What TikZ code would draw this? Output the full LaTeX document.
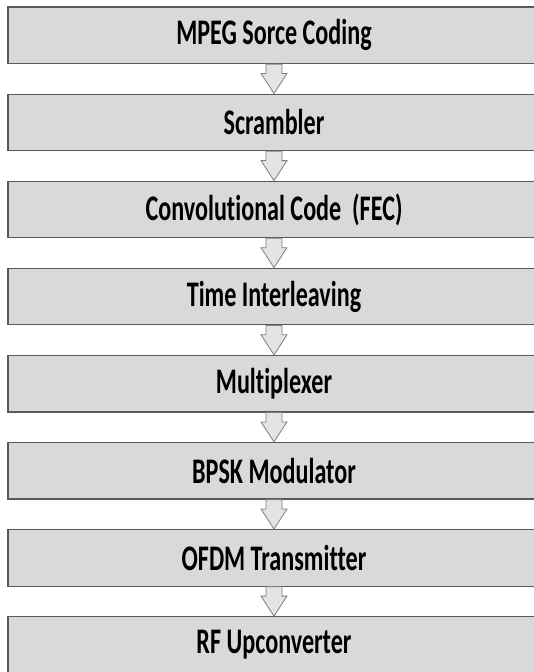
\documentclass[tikz,border=0pt]{standalone}
\usepackage{fontspec}
\setmainfont{Carlito}[FakeStretch=0.67, Ligatures={NoCommon}]
\definecolor{boxfill}{HTML}{D9D9D9}
\definecolor{boxline}{HTML}{595959}
\definecolor{arrowfill}{HTML}{E4E4E4}
\definecolor{arrowline}{HTML}{7F7F7F}
\tikzset{
  stage/.style={draw=boxline, fill=boxfill, line width=1.2pt, minimum width=532pt,
    minimum height=56.5pt, inner sep=0pt, font=\fontsize{36}{42}\selectfont\bfseries},
  flow/.style={draw=arrowline, fill=arrowfill, line width=0.8pt, line join=miter}
}
\begin{document}
\begin{tikzpicture}[x=1pt,y=1pt]
    \useasboundingbox (0,0) rectangle (534,-672);
    \clip (0,0) rectangle (534,-672);
    \node[stage] (src) at (274,-35.25) {MPEG Sorce Coding};
    \node[stage] (scr) at (274,-122.35) {Scrambler};
    \node[stage] (fec) at (274,-209.45) {Convolutional Code\ \ (FEC)};
    \node[stage] (til) at (274,-296.55) {Time Interleaving};
    \node[stage] (mux) at (274,-383.65) {Multiplexer};
    \node[stage] (bpsk) at (274,-470.75) {BPSK Modulator};
    \node[stage] (ofdm) at (274,-557.85) {OFDM Transmitter};
    \node[stage] (rf) at (274,-644.95) {RF Upconverter};
    % block arrows between the stages
    \foreach \a/\b in {src/scr, scr/fec, fec/til, til/mux, mux/bpsk, bpsk/ofdm, ofdm/rf}
        \draw[flow] ([xshift=-8pt]\a.south) -- ([xshift=-8pt,yshift=20pt]\b.north)
            -- ([xshift=-13pt,yshift=20pt]\b.north) -- (\b.north)
            -- ([xshift=13pt,yshift=20pt]\b.north) -- ([xshift=8pt,yshift=20pt]\b.north)
            -- ([xshift=8pt]\a.south) -- cycle;
\end{tikzpicture}
\end{document}
